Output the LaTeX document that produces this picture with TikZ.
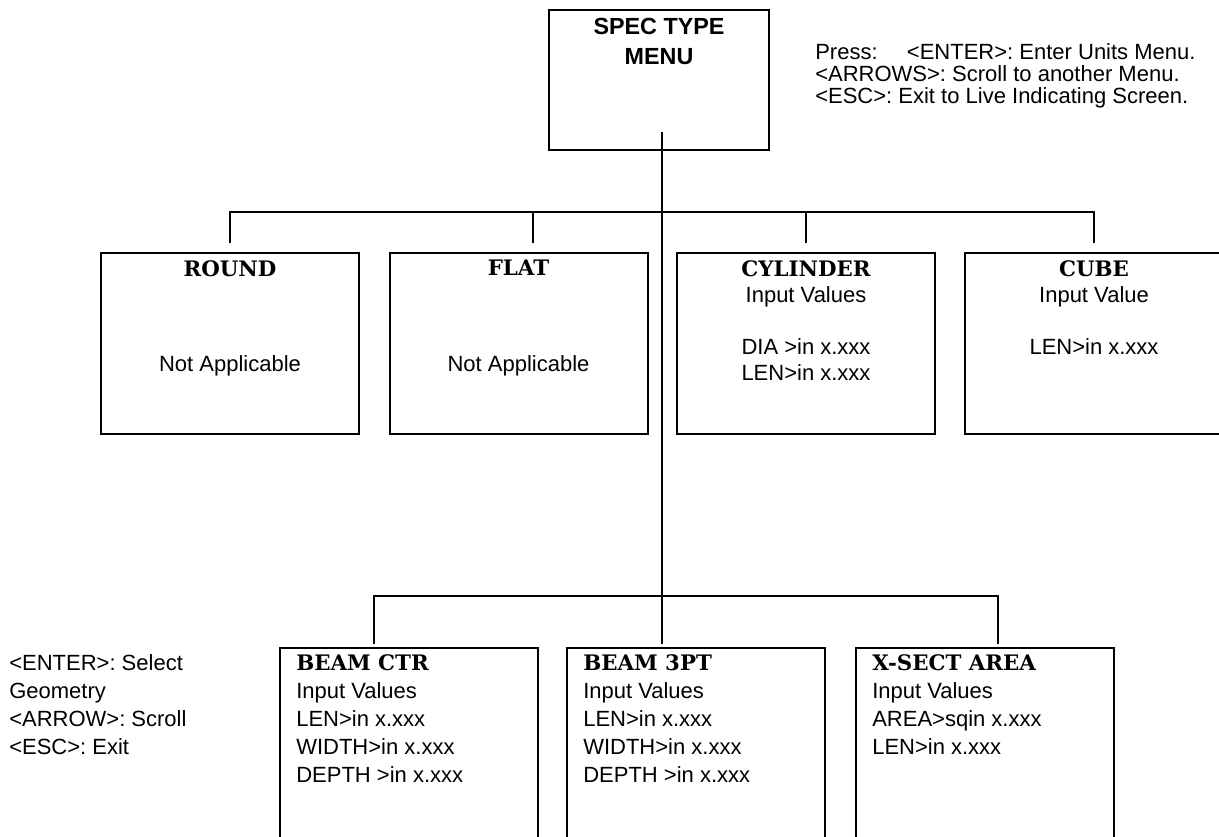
\documentclass[tikz,border=0pt]{standalone}
\usepackage{fontspec}
\setmainfont{Liberation Sans}
\newfontfamily\headfont{DejaVu Serif}
\newcommand{\boxhead}[1]{{\headfont\bfseries\fontsize{16pt}{19.5pt}\selectfont #1}}
\frenchspacing
\tikzset{
  menubox/.style={draw, line width=1.5pt, minimum width=193.5pt, minimum height=135.75pt, inner sep=0pt},
  lowbox/.style={draw, line width=1.5pt, minimum width=193.5pt, minimum height=195pt, inner sep=0pt, anchor=north},
  link/.style={line width=1pt},
  uppertext/.style={anchor=north, align=center, inner sep=0pt, font=\fontsize{16.5pt}{19.5pt}\selectfont},
  lowertext/.style={anchor=north west, align=left, inner sep=0pt, font=\fontsize{16.5pt}{21pt}\selectfont},
}
\begin{document}
\begin{tikzpicture}[x=0.75pt,y=-0.75pt]
  \useasboundingbox (0,0) rectangle (1219,837);
  \clip (0,0) rectangle (1219,837);
  % top menu
  \node[draw, line width=1.5pt, minimum width=165pt, minimum height=105pt] (menu) at (659,80) {};
  \node[anchor=north, align=center, inner sep=0pt, font=\bfseries\fontsize{17.5pt}{22.5pt}\selectfont] (menu title) at (659,18) {SPEC TYPE\\MENU};
  \node[anchor=north west, align=left, inner sep=0pt, font=\fontsize{16.5pt}{16.5pt}\selectfont] (keys) at (815,43)
       {Press:\hspace{22pt}<ENTER>: Enter Units Menu.\\<ARROWS>: Scroll to another Menu.\\<ESC>: Exit to Live Indicating Screen.};
  % first row
  \node[menubox] (round) at (230,343.5) {};
  \node[menubox] (flat) at (518.5,343.5) {};
  \node[menubox] (cyl) at (806,343.5) {};
  \node[menubox] (cube) at (1094,343.5) {};
  \node[uppertext] (round title) at (230,260) {\boxhead{ROUND}};
  \node[uppertext] (round body) at (230,355) {Not Applicable};
  \node[uppertext] (flat title) at (518.5,260) {\boxhead{FLAT}};
  \node[uppertext] (flat body) at (518.5,355) {Not Applicable};
  \node[uppertext] (cyl text) at (806,260) {\boxhead{CYLINDER}\\Input Values\\[19.5pt]DIA >in x.xxx\\LEN>in x.xxx};
  \node[uppertext] (cube text) at (1094,260) {\boxhead{CUBE}\\Input Value\\[19.5pt]LEN>in x.xxx};
  % second row
  \node[lowbox] (beamctr) at (409,647) {};
  \node[lowbox] (beam3pt) at (696,647) {};
  \node[lowbox] (xsect) at (985,647) {};
  \node[lowertext] (beamctr text) at (296,654) {\boxhead{BEAM CTR}\\Input Values\\LEN>in x.xxx\\WIDTH>in x.xxx\\DEPTH >in x.xxx};
  \node[lowertext] (beam3pt text) at (583,654) {\boxhead{BEAM 3PT}\\Input Values\\LEN>in x.xxx\\WIDTH>in x.xxx\\DEPTH >in x.xxx};
  \node[lowertext] (xsect text) at (872,654) {\boxhead{X-SECT AREA}\\Input Values\\AREA>sqin x.xxx\\LEN>in x.xxx};
  \node[lowertext] (geom keys) at (9,654) {<ENTER>: Select\\Geometry\\<ARROW>: Scroll\\<ESC>: Exit};
  % connectors
  \coordinate (trunk top) at (662,132);
  \coordinate (upper bus) at (662,212);
  \coordinate (lower bus) at (662,596);
  \coordinate (flat drop) at ([xshift=10.9pt]flat.north);
  \coordinate (ctr drop) at ([xshift=-26.25pt]beamctr.north);
  \coordinate (area drop) at ([xshift=9.75pt]xsect.north);
  \draw[link,shorten >=2.25pt] (trunk top) -- (trunk top |- beam3pt.north);
  \draw[link,shorten <=6.75pt,shorten >=6.75pt] (round.north) -- (round.north |- upper bus) -- (cube.north |- upper bus) -- (cube.north);
  \draw[link,shorten <=6.75pt] (flat drop) -- (flat drop |- upper bus);
  \draw[link,shorten <=6.75pt] (cyl.north) -- (cyl.north |- upper bus);
  \draw[link,shorten <=2.25pt,shorten >=2.25pt] (ctr drop) -- (ctr drop |- lower bus) -- (area drop |- lower bus) -- (area drop);
\end{tikzpicture}
\end{document}
